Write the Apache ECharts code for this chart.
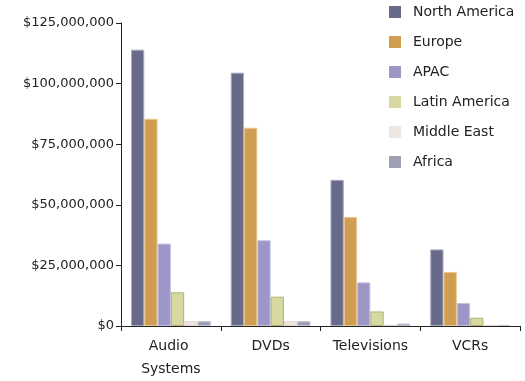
<!DOCTYPE html>
<html>
<head>
<meta charset="utf-8">
<script src="https://cdn.jsdelivr.net/npm/echarts@6/dist/echarts.min.js"></script>
<style>
  html, body { margin: 0; padding: 0; background: #ffffff; }
  #chart { width: 525px; height: 381px; }
</style>
</head>
<body>
<div id="chart"></div>
<script>
// Product categories along the x axis
const categories = ['Audio Systems', 'DVDs', 'Televisions', 'VCRs'];

// Sales by region, in dollars
const northAmerica = [114000000, 104500000, 60300000, 31600000];
const europe       = [85500000, 81800000, 45000000, 22300000];
const apac         = [34000000, 35400000, 18000000, 9500000];
const latinAmerica = [13900000, 12100000, 6000000, 3400000];
const middleEast   = [2000000, 2000000, 500000, 400000];
const africa       = [2000000, 2000000, 1000000, 400000];

const regionNames = ['North America', 'Europe', 'APAC', 'Latin America', 'Middle East', 'Africa'];
const regionValues = [northAmerica, europe, apac, latinAmerica, middleEast, africa];

// Value axis ticks
const yMax = 125000000;
const yStep = 25000000;

const fills   = ['#686a8a', '#cf9e52', '#9d97c8', '#d8d9a2', '#efe5e1', '#9f9fb4'];
const borders = ['#a9abc2', '#e9c88f', '#c4c0e2', '#b0b27a', '#e3d6d0', '#c3c3d3'];

const fmtMoney = v => '$' + Math.round(v).toLocaleString('en-US');

const chart = echarts.init(document.getElementById('chart'), null, { renderer: 'canvas' });

chart.setOption({
  animation: false,
  backgroundColor: '#ffffff',
  textStyle: { fontFamily: 'DejaVu Sans' },
  grid: { left: 121, right: 5, top: 23, bottom: 52 },
  legend: {
    orient: 'vertical',
    left: 384,
    top: 0,
    itemWidth: 12,
    itemHeight: 12,
    itemGap: 16,
    icon: 'rect',
    itemStyle: { borderWidth: 0 },
    textStyle: {
      fontFamily: 'DejaVu Sans', fontSize: 14, color: '#222',
      padding: [4, 0, 0, 7], height: 16
    },
    data: regionNames
  },
  xAxis: {
    type: 'category',
    data: categories,
    axisLine: { lineStyle: { color: '#222', width: 1 } },
    axisTick: { show: true, length: 5, lineStyle: { color: '#222' } },
    axisLabel: {
      interval: 0,
      fontFamily: 'DejaVu Sans',
      fontSize: 14,
      color: '#222',
      margin: 9,
      width: 90,
      overflow: 'break',
      lineHeight: 23
    }
  },
  yAxis: {
    type: 'value',
    min: 0,
    max: yMax,
    interval: yStep,
    axisLine: { show: true, lineStyle: { color: '#222', width: 1 } },
    axisTick: { show: true, length: 5, lineStyle: { color: '#222' } },
    splitLine: { show: false },
    axisLabel: {
      fontFamily: 'DejaVu Sans',
      fontSize: 13,
      color: '#222',
      margin: 7,
      formatter: fmtMoney
    }
  },
  series: regionNames.map((name, i) => ({
    name: name,
    type: 'bar',
    data: regionValues[i],
    barGap: '0%',
    barCategoryGap: '20%',
    itemStyle: { color: fills[i], borderColor: borders[i], borderWidth: 1 }
  }))
});
</script>
</body>
</html>
